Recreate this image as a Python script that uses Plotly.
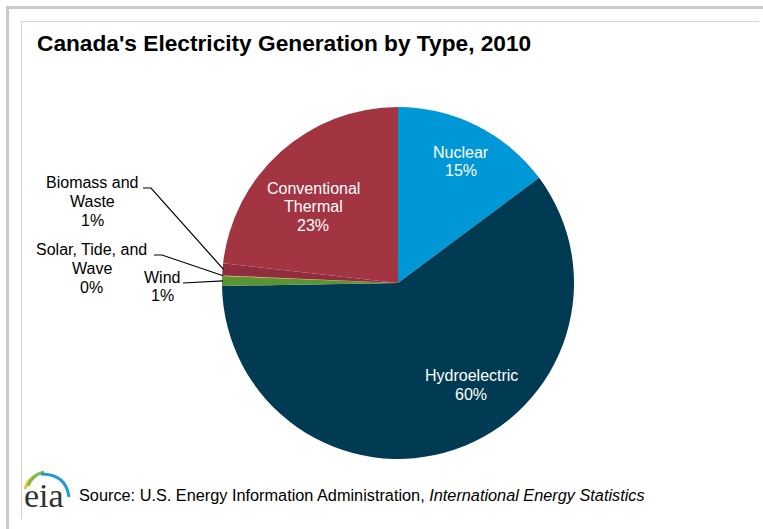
import math
import plotly.graph_objects as go

# ---------------- data ----------------
categories = ["Nuclear", "Hydroelectric", "Wind", "Solar, Tide, and Wave",
              "Biomass and Waste", "Conventional Thermal"]
label_lines = [["Nuclear"], ["Hydroelectric"], ["Wind"], ["Solar, Tide, and", "Wave"],
               ["Biomass and", "Waste"], ["Conventional", "Thermal"]]
shares = [14.8, 59.9, 0.9, 0.05, 1.1, 23.2]
colors = ["#0097D7", "#003A53", "#5A9533", "#E9A23B", "#902E3D", "#A33441"]
title_text = "Canada's Electricity Generation by Type, 2010"
source_text = ("Source: U.S. Energy Information Administration, "
               "<i>International Energy Statistics</i>")

# ---------------- layout constants (pixels) ----------------
W, H = 763, 529
CX, CY, R = 398, 283, 176
FONT = "Liberation Sans, Arial, sans-serif"
LINE_H = 18.7

def px(x):
    return x / W

def py(y):
    return 1 - y / H

total = sum(shares)
pct = [f"{round(v / total * 100):.0f}%" for v in shares]

# label placement: (center x, center y, inside?)
label_pos = {
    "Nuclear": (461, 161.5, True),
    "Hydroelectric": (471, 385, True),
    "Conventional Thermal": (313, 207, True),
    "Biomass and Waste": (92.5, 201.5, False),
    "Solar, Tide, and Wave": (91.5, 268.5, False),
    "Wind": (162, 286.5, False),
}
leader_start = {
    "Biomass and Waste": [(143, 188), (151, 188)],
    "Solar, Tide, and Wave": [(154, 255), (162, 255)],
    "Wind": [(183, 283)],
}

fig = go.Figure()
fig.add_trace(go.Pie(
    labels=categories,
    values=shares,
    sort=False,
    direction="clockwise",
    rotation=0,
    marker=dict(colors=colors, line=dict(width=0)),
    textinfo="none",
    hoverinfo="label+percent",
    showlegend=False,
    domain=dict(x=[px(CX - R), px(CX + R)], y=[py(CY + R), py(CY - R)]),
))

annotations = []
shapes = []

cum = 0.0
mid_angle = {}
for c, v in zip(categories, shares):
    mid_angle[c] = (cum + v / 2) / total * 2 * math.pi
    cum += v

for c, lines, p in zip(categories, label_lines, pct):
    x, y, inside = label_pos[c]
    all_lines = lines + [p]
    n = len(all_lines)
    for i, ln in enumerate(all_lines):
        ly = y + (i - (n - 1) / 2) * LINE_H
        annotations.append(dict(
            x=px(x), y=py(ly), xref="paper", yref="paper",
            text=ln, showarrow=False,
            xanchor="center", yanchor="middle", align="center",
            font=dict(family=FONT, size=16, color="white" if inside else "black"),
        ))
    if not inside:
        a = mid_angle[c]
        tx = CX + (R - 1) * math.sin(a)
        ty = CY - (R - 1) * math.cos(a)
        pts = leader_start[c] + [(tx, ty)]
        path = "M " + " L ".join(f"{px(a_)},{py(b_)}" for a_, b_ in pts)
        shapes.append(dict(type="path", path=path, xref="paper", yref="paper",
                           line=dict(color="black", width=1.2)))

# title
annotations.append(dict(
    x=px(35), y=py(43), xref="paper", yref="paper", text=f"<b>{title_text}</b>",
    showarrow=False, xanchor="left", yanchor="middle",
    font=dict(family=FONT, size=22.7, color="black"),
))
# source
annotations.append(dict(
    x=px(77), y=py(495), xref="paper", yref="paper", text=source_text,
    showarrow=False, xanchor="left", yanchor="middle",
    font=dict(family=FONT, size=16.3, color="black"),
))
# eia logo text
annotations.append(dict(
    x=px(44), y=py(495), xref="paper", yref="paper", text="eia",
    showarrow=False, xanchor="center", yanchor="middle",
    font=dict(family="Liberation Serif, DejaVu Serif, serif", size=34, color="#333333"),
))

def arc(p0, c, p1, color, width):
    return dict(type="path", xref="paper", yref="paper",
                path=f"M {px(p0[0])},{py(p0[1])} Q {px(c[0])},{py(c[1])} {px(p1[0])},{py(p1[1])}",
                line=dict(color=color, width=width))

shapes.append(arc((25, 489), (27, 480), (35, 476), "#F2C12E", 3))
shapes.append(arc((28, 486), (32, 475), (44, 472), "#7DBB42", 3))
shapes.append(arc((41, 474), (66, 474), (69, 497), "#1E9BD7", 3))

# frame
shapes.append(dict(type="rect", xref="paper", yref="paper",
                   x0=px(6), x1=px(9), y0=py(529), y1=py(6),
                   fillcolor="#CACACA", line=dict(width=0)))
shapes.append(dict(type="rect", xref="paper", yref="paper",
                   x0=px(6), x1=px(763), y0=py(9), y1=py(6),
                   fillcolor="#CACACA", line=dict(width=0)))
shapes.append(dict(type="line", xref="paper", yref="paper",
                   x0=px(21.5), x1=px(21.5), y0=py(519), y1=py(21.5),
                   line=dict(color="#D4D4D4", width=1)))
shapes.append(dict(type="line", xref="paper", yref="paper",
                   x0=px(21.5), x1=px(759), y0=py(21.5), y1=py(21.5),
                   line=dict(color="#D4D4D4", width=1)))

fig.update_layout(
    width=W, height=H,
    margin=dict(l=0, r=0, t=0, b=0),
    paper_bgcolor="white", plot_bgcolor="white",
    annotations=annotations, shapes=shapes,
)

fig.write_html(
    "out.html",
    config={"displayModeBar": False},
    post_script="document.body.style.margin='0';document.body.style.overflow='hidden';",
)
